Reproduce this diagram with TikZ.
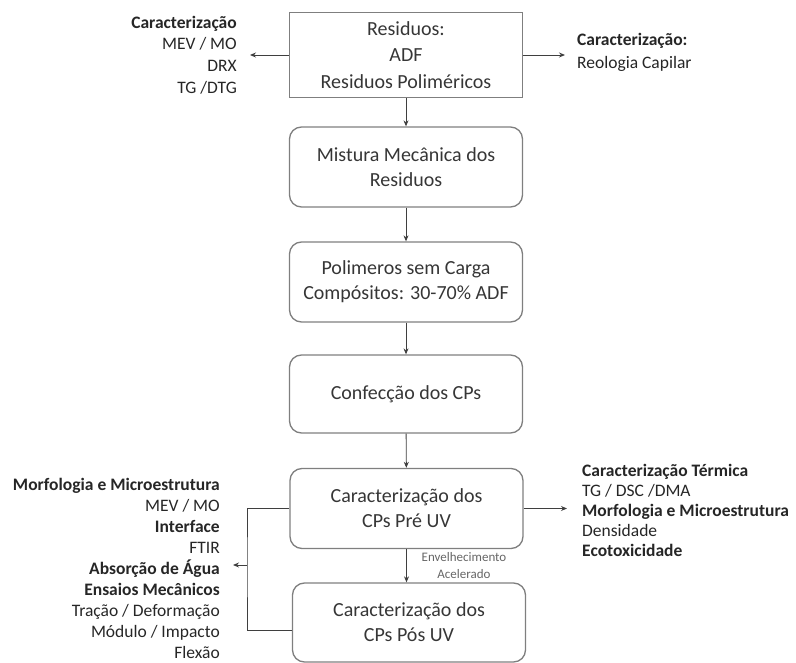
\documentclass[tikz,border=0pt]{standalone}
\usepackage{fontspec}
\setmainfont{Carlito}
\usetikzlibrary{arrows.meta}

\definecolor{borda}{HTML}{7F7F7F}
\definecolor{linha}{HTML}{3F3F3F}
\definecolor{texto}{HTML}{363636}

\tikzset{
  caixa/.style={draw=borda, line width=1.3pt, rounded corners=12pt,
    minimum width=233pt, minimum height=80pt, inner sep=0pt,
    align=center, text=texto, font=\fontsize{20}{25}\selectfont},
  seta/.style={draw=linha, line width=0.9pt, -{Stealth[length=6pt,width=5pt]}},
  lista/.style={inner sep=0pt, text=black!85, font=\fontsize{17.5}{20}\selectfont}
}

\begin{document}
\begin{tikzpicture}[x=1pt,y=-1pt]
    \useasboundingbox (0,0) rectangle (796,663);

    % Fluxo principal
    \node[caixa, rounded corners=0pt, minimum height=85pt,
      font=\fontsize{20}{26.5}\selectfont] (residuos) at (406,55)
      {Residuos:\\ADF\\Residuos Poliméricos};
    \node[caixa] (mistura) at (406,167) {Mistura Mecânica dos\\Residuos};
    \node[caixa] (polimeros) at (406,282) {Polimeros sem Carga\\Compósitos: 30-70\% ADF};
    \node[caixa, minimum height=78pt] (confeccao) at (406,394) {Confecção dos CPs};
    \node[caixa] (preuv) at (406.5,508.5) {Caracterização dos\\CPs Pré UV};
    \node[caixa, minimum height=79pt] (posuv) at (409,622.5) {Caracterização dos\\CPs Pós UV};

    \draw[seta] (residuos) -- (mistura);
    \draw[seta] (mistura) -- (polimeros);
    \draw[seta] (polimeros) -- (confeccao);
    \draw[seta] (confeccao) -- (preuv);
    \draw[seta] (preuv.south) -- (preuv.south |- posuv.north);
    \node[font=\fontsize{13}{17}\selectfont, text=black!60, align=center, inner sep=0pt]
      (envelhec) at (464,566) {Envelhecimento\\Acelerado};

    % Caracterizacao dos residuos
    \coordinate (setaesq) at (250,55);
    \coordinate (setadir) at (565,55);
    \draw[seta] (residuos.west) -- (setaesq);
    \draw[seta] (residuos.east) -- (setadir);
    \node[lista, anchor=east, align=right, font=\fontsize{17.5}{21.7}\selectfont]
      (caracres) at (237,55)
      {\textbf{Caracterização}\\MEV / MO\\DRX\\TG /DTG};
    \node[lista, anchor=west, align=left, font=\fontsize{17.5}{23}\selectfont]
      (reologia) at (577,52)
      {\textbf{Caracterização:}\\Reologia Capilar};

    % Caracterizacao dos CPs
    \coordinate (ramo) at (247,565);
    \coordinate (setaramo) at (233,565);
    \draw[draw=linha, line width=0.9pt] (preuv.west) -| (ramo) |- ([yshift=-8pt]posuv.west);
    \draw[seta] (ramo) -- (setaramo);
    \node[lista, anchor=east, align=right, font=\fontsize{17.5}{21.1}\selectfont]
      (ensaios) at (220,568.5)
      {\textbf{Morfologia e Microestrutura}\\MEV / MO\\\textbf{Interface}\\FTIR\\
       \textbf{Absorção de Água}\\\textbf{Ensaios Mecânicos}\\Tração / Deformação\\
       Módulo / Impacto\\Flexão};

    \coordinate (setapre) at (567,508.5);
    \draw[seta] (preuv.east) -- (setapre);
    \node[lista, anchor=west, align=left] (termica) at (582,510)
      {\textbf{Caracterização Térmica}\\TG / DSC /DMA\\\textbf{Morfologia e Microestrutura}\\
       Densidade\\\textbf{Ecotoxicidade}};
\end{tikzpicture}
\end{document}
